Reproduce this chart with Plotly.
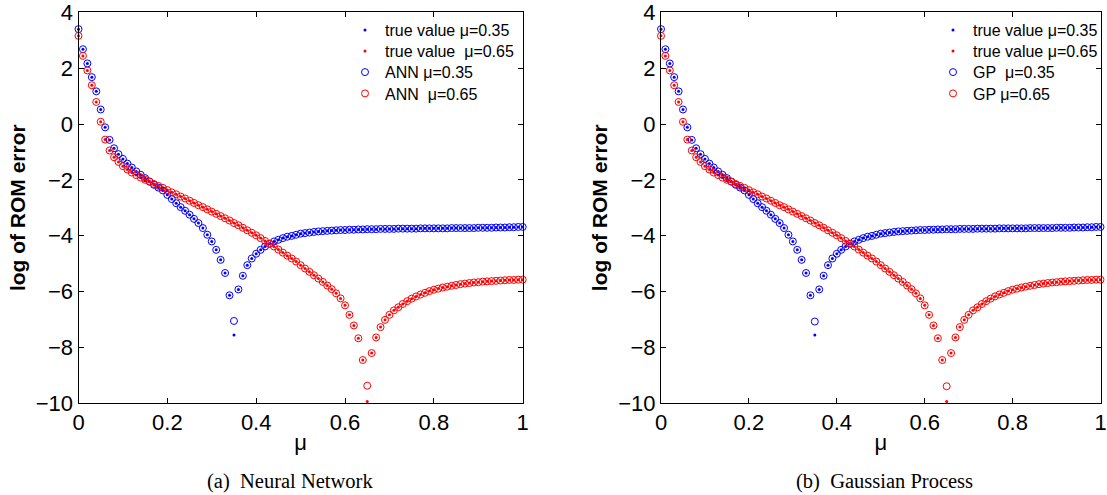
import plotly.graph_objects as go

# parameter grid mu = 0.00, 0.01, ..., 1.00
mu = [round(i * 0.01, 2) for i in range(101)]

# log of ROM error, reference solutions at mu = 0.35 and mu = 0.65
true_035 = [
    3.40, 2.68, 2.17, 1.68, 1.17, 0.52, -0.12, -0.57, -0.87, -1.08,
    -1.25, -1.42, -1.56, -1.70, -1.82, -1.94, -2.06, -2.18, -2.28, -2.38,
    -2.54, -2.69, -2.84, -2.98, -3.11, -3.25, -3.40, -3.55, -3.73, -3.97,
    -4.21, -4.51, -4.87, -5.34, -6.14, -7.56, -5.93, -5.44, -5.06, -4.82,
    -4.65, -4.51, -4.39, -4.29, -4.21, -4.15, -4.09, -4.04, -4.01, -3.97,
    -3.93, -3.91, -3.89, -3.87, -3.85, -3.84, -3.83, -3.82, -3.81, -3.80,
    -3.80, -3.79, -3.79, -3.78, -3.78, -3.77, -3.77, -3.77, -3.76, -3.76,
    -3.76, -3.76, -3.75, -3.75, -3.75, -3.75, -3.75, -3.74, -3.74, -3.74,
    -3.74, -3.74, -3.74, -3.74, -3.73, -3.73, -3.73, -3.73, -3.73, -3.73,
    -3.72, -3.72, -3.72, -3.72, -3.71, -3.71, -3.71, -3.70, -3.70, -3.69,
    -3.69,
]
true_065 = [
    3.16, 2.44, 1.92, 1.39, 0.79, 0.08, -0.56, -0.95, -1.19, -1.36,
    -1.51, -1.63, -1.74, -1.83, -1.92, -2.00, -2.07, -2.15, -2.22, -2.29,
    -2.37, -2.45, -2.52, -2.60, -2.67, -2.75, -2.83, -2.91, -2.98, -3.06,
    -3.14, -3.22, -3.30, -3.38, -3.46, -3.55, -3.63, -3.72, -3.81, -3.90,
    -3.99, -4.09, -4.19, -4.29, -4.39, -4.50, -4.61, -4.72, -4.82, -4.93,
    -5.06, -5.18, -5.30, -5.42, -5.54, -5.66, -5.79, -5.92, -6.07, -6.25,
    -6.50, -6.84, -7.22, -7.68, -8.46, -9.95, -8.21, -7.65, -7.28, -7.02,
    -6.84, -6.68, -6.57, -6.45, -6.35, -6.26, -6.18, -6.11, -6.05, -5.99,
    -5.94, -5.90, -5.86, -5.83, -5.80, -5.77, -5.74, -5.72, -5.70, -5.68,
    -5.67, -5.65, -5.64, -5.63, -5.62, -5.61, -5.60, -5.59, -5.59, -5.58,
    -5.58,
]

# neural network predictions
ann_035 = [
    3.40, 2.68, 2.17, 1.68, 1.17, 0.52, -0.12, -0.57, -0.87, -1.08,
    -1.25, -1.42, -1.56, -1.70, -1.82, -1.94, -2.06, -2.18, -2.28, -2.38,
    -2.54, -2.69, -2.84, -2.98, -3.11, -3.25, -3.40, -3.55, -3.73, -3.97,
    -4.21, -4.51, -4.87, -5.34, -6.14, -7.06, -5.93, -5.44, -5.06, -4.82,
    -4.65, -4.51, -4.39, -4.29, -4.21, -4.15, -4.09, -4.04, -4.01, -3.97,
    -3.93, -3.91, -3.89, -3.87, -3.85, -3.84, -3.83, -3.82, -3.81, -3.80,
    -3.80, -3.79, -3.79, -3.78, -3.78, -3.77, -3.77, -3.77, -3.76, -3.76,
    -3.76, -3.76, -3.75, -3.75, -3.75, -3.75, -3.75, -3.74, -3.74, -3.74,
    -3.74, -3.74, -3.74, -3.74, -3.73, -3.73, -3.73, -3.73, -3.73, -3.73,
    -3.72, -3.72, -3.72, -3.72, -3.71, -3.71, -3.71, -3.70, -3.70, -3.69,
    -3.69,
]
ann_065 = [
    3.16, 2.44, 1.92, 1.39, 0.79, 0.08, -0.56, -0.95, -1.19, -1.36,
    -1.51, -1.63, -1.74, -1.83, -1.92, -2.00, -2.07, -2.15, -2.22, -2.29,
    -2.37, -2.45, -2.52, -2.60, -2.67, -2.75, -2.83, -2.91, -2.98, -3.06,
    -3.14, -3.22, -3.30, -3.38, -3.46, -3.55, -3.63, -3.72, -3.81, -3.90,
    -3.99, -4.09, -4.19, -4.29, -4.39, -4.50, -4.61, -4.72, -4.82, -4.93,
    -5.06, -5.18, -5.30, -5.42, -5.54, -5.66, -5.79, -5.92, -6.07, -6.25,
    -6.50, -6.84, -7.22, -7.68, -8.46, -9.38, -8.21, -7.65, -7.28, -7.02,
    -6.84, -6.68, -6.57, -6.45, -6.35, -6.26, -6.18, -6.11, -6.05, -5.99,
    -5.94, -5.90, -5.86, -5.83, -5.80, -5.77, -5.74, -5.72, -5.70, -5.68,
    -5.67, -5.65, -5.64, -5.63, -5.62, -5.61, -5.60, -5.59, -5.59, -5.58,
    -5.58,
]

# Gaussian process predictions
gp_035 = [
    3.40, 2.68, 2.17, 1.68, 1.17, 0.52, -0.12, -0.57, -0.87, -1.08,
    -1.25, -1.42, -1.56, -1.70, -1.82, -1.94, -2.06, -2.18, -2.28, -2.38,
    -2.54, -2.69, -2.84, -2.98, -3.11, -3.25, -3.40, -3.55, -3.73, -3.97,
    -4.21, -4.51, -4.87, -5.34, -6.14, -7.08, -5.93, -5.44, -5.06, -4.82,
    -4.65, -4.51, -4.39, -4.29, -4.21, -4.15, -4.09, -4.04, -4.01, -3.97,
    -3.93, -3.91, -3.89, -3.87, -3.85, -3.84, -3.83, -3.82, -3.81, -3.80,
    -3.80, -3.79, -3.79, -3.78, -3.78, -3.77, -3.77, -3.77, -3.76, -3.76,
    -3.76, -3.76, -3.75, -3.75, -3.75, -3.75, -3.75, -3.74, -3.74, -3.74,
    -3.74, -3.74, -3.74, -3.74, -3.73, -3.73, -3.73, -3.73, -3.73, -3.73,
    -3.72, -3.72, -3.72, -3.72, -3.71, -3.71, -3.71, -3.70, -3.70, -3.69,
    -3.69,
]
gp_065 = [
    3.16, 2.44, 1.92, 1.39, 0.79, 0.08, -0.56, -0.95, -1.19, -1.36,
    -1.51, -1.63, -1.74, -1.83, -1.92, -2.00, -2.07, -2.15, -2.22, -2.29,
    -2.37, -2.45, -2.52, -2.60, -2.67, -2.75, -2.83, -2.91, -2.98, -3.06,
    -3.14, -3.22, -3.30, -3.38, -3.46, -3.55, -3.63, -3.72, -3.81, -3.90,
    -3.99, -4.09, -4.19, -4.29, -4.39, -4.50, -4.61, -4.72, -4.82, -4.93,
    -5.06, -5.18, -5.30, -5.42, -5.54, -5.66, -5.79, -5.92, -6.07, -6.25,
    -6.50, -6.84, -7.22, -7.68, -8.46, -9.40, -8.21, -7.65, -7.28, -7.02,
    -6.84, -6.68, -6.57, -6.45, -6.35, -6.26, -6.18, -6.11, -6.05, -5.99,
    -5.94, -5.90, -5.86, -5.83, -5.80, -5.77, -5.74, -5.72, -5.70, -5.68,
    -5.67, -5.65, -5.64, -5.63, -5.62, -5.61, -5.60, -5.59, -5.59, -5.58,
    -5.58,
]

x_ticks = [0, 0.2, 0.4, 0.6, 0.8, 1]
y_ticks = [-10, -8, -6, -4, -2, 0, 2, 4]

W, H = 1107, 495
SANS = "Liberation Sans, Arial, Helvetica, sans-serif"
SERIF = "Liberation Serif, Times New Roman, serif"
BLUE, RED = "rgb(0,0,255)", "rgb(255,0,0)"
NB = "\u00a0"

fig = go.Figure()


def dots(y, color, name, xa, ya, legend):
    return go.Scatter(
        x=mu, y=y, mode="markers", name=name, xaxis=xa, yaxis=ya, legend=legend,
        showlegend=True,
        marker=dict(symbol="circle", size=3, color=color, line=dict(width=0)),
        cliponaxis=False,
    )


def rings(y, color, name, xa, ya, legend):
    return go.Scatter(
        x=mu, y=y, mode="markers", name=name, xaxis=xa, yaxis=ya, legend=legend,
        showlegend=True,
        marker=dict(symbol="circle-open", size=7, color=color, line=dict(width=1, color=color)),
        cliponaxis=False,
    )


# left panel: neural network (one legend entry per legend box, stacked)
fig.add_trace(dots(true_035, BLUE, "true value μ=0.35", "x", "y", "legend"))
fig.add_trace(dots(true_065, RED, "true value" + NB + " μ=0.65", "x", "y", "legend2"))
fig.add_trace(rings(ann_035, BLUE, "ANN μ=0.35", "x", "y", "legend3"))
fig.add_trace(rings(ann_065, RED, "ANN" + NB + " μ=0.65", "x", "y", "legend4"))

# right panel: Gaussian process
fig.add_trace(dots(true_035, BLUE, "true value μ=0.35", "x2", "y2", "legend5"))
fig.add_trace(dots(true_065, RED, "true value μ=0.65", "x2", "y2", "legend6"))
fig.add_trace(rings(gp_035, BLUE, "GP" + NB + " μ=0.35", "x2", "y2", "legend7"))
fig.add_trace(rings(gp_065, RED, "GP μ=0.65", "x2", "y2", "legend8"))

x_dom_l = [78.5 / W, 522.7 / W]
x_dom_r = [661.0 / W, 1100.5 / W]
y_dom = [(H - 403.0) / H, (H - 12.4) / H]

common_x = dict(
    range=[0, 1], tickvals=x_ticks, ticks="inside", ticklen=5, tickwidth=1,
    tickcolor="black", showline=True, linecolor="black", linewidth=1,
    mirror="ticks", showgrid=False, zeroline=False, automargin=False,
    ticklabeloverflow="allow",
    tickfont=dict(family=SANS, size=22, color="black"),
    title=dict(text="μ", font=dict(family=SANS, size=22, color="black"), standoff=0),
)
common_y = dict(
    range=[-10, 4], tickvals=y_ticks, ticks="inside", ticklen=5, tickwidth=1,
    tickcolor="black", showline=True, linecolor="black", linewidth=1,
    mirror="ticks", showgrid=False, zeroline=False, automargin=False,
    ticklabeloverflow="allow",
    tickfont=dict(family=SANS, size=22, color="black"),
    title=dict(text="<b>log of ROM error</b>", font=dict(family=SANS, size=21, color="black"), standoff=4),
)

legend_style = dict(
    font=dict(family=SANS, size=16, color="black"), bgcolor="rgba(0,0,0,0)",
    borderwidth=0, xanchor="left", yanchor="top", tracegroupgap=0,
)

# legend rows: centres at these pixel heights from the top
row_px = [30.7, 51.7, 72.7, 94.0]
legends = {}
for i, c in enumerate(row_px):
    y_top = (H - (c - 17.5)) / H
    legends["legend" if i == 0 else f"legend{i + 1}"] = dict(x=345 / W, y=y_top, **legend_style)
    legends[f"legend{i + 5}"] = dict(x=933 / W, y=y_top, **legend_style)

fig.update_layout(
    width=W, height=H, margin=dict(l=0, r=0, t=0, b=0, autoexpand=False),
    paper_bgcolor="white", plot_bgcolor="white", showlegend=True,
    xaxis=dict(domain=x_dom_l, anchor="y", **common_x),
    yaxis=dict(domain=y_dom, anchor="x", **common_y),
    xaxis2=dict(domain=x_dom_r, anchor="y2", **common_x),
    yaxis2=dict(domain=y_dom, anchor="x2", **common_y),
    annotations=[
        dict(text="(a)  Neural Network", x=289.5 / W, y=(H - 481.5) / H, xref="paper", yref="paper",
             showarrow=False, xanchor="center", yanchor="middle",
             font=dict(family=SERIF, size=20.5, color="black")),
        dict(text="(b)  Gaussian Process", x=884.5 / W, y=(H - 481.5) / H, xref="paper", yref="paper",
             showarrow=False, xanchor="center", yanchor="middle",
             font=dict(family=SERIF, size=20.5, color="black")),
    ],
    **legends,
)

fig.write_html("out.html")
